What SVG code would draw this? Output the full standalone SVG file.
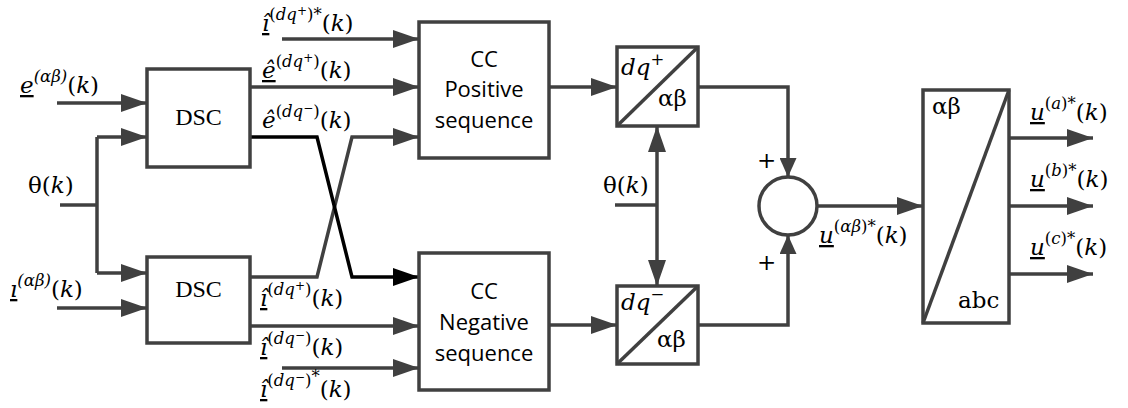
<svg xmlns="http://www.w3.org/2000/svg" width="1128" height="408" viewBox="0 0 1128 408">
<style>
.box{fill:#fff;stroke:#404040;stroke-width:3.5}
.ln{fill:none;stroke:#404040;stroke-width:3.5}
.lk{fill:none;stroke:#000;stroke-width:3.5}
.m{font-family:"DejaVu Serif","Liberation Serif",serif;font-size:23px;fill:#000}
.i{font-style:italic}
.u{text-decoration:underline}
.s{font-size:16.5px}
.ss{font-size:12px}
.dsc{font-family:"Liberation Serif",serif;font-size:24px;fill:#000;text-anchor:middle}
.cc{font-family:"Open Sans","Liberation Sans",sans-serif;font-size:22px;fill:#000;text-anchor:middle}
</style>
<defs>
<marker id="ag" markerUnits="userSpaceOnUse" markerWidth="26" markerHeight="18" refX="26" refY="9" orient="auto"><path d="M0,0 L26,9 L0,18 z" fill="#404040"/></marker>
<marker id="ak" markerUnits="userSpaceOnUse" markerWidth="26" markerHeight="18" refX="26" refY="9" orient="auto"><path d="M0,0 L26,9 L0,18 z" fill="#000"/></marker>
<marker id="as" markerUnits="userSpaceOnUse" markerWidth="19" markerHeight="17" refX="19" refY="8.5" orient="auto"><path d="M0,0 L19,8.5 L0,17 z" fill="#404040"/></marker>
</defs>

<g id="connectors">
<path class="ln" d="M57,103 H147" marker-end="url(#ag)"/>
<path class="ln" d="M60,205 H97"/>
<path class="ln" d="M97,137 V273"/>
<path class="ln" d="M97,137 H147" marker-end="url(#ag)"/>
<path class="ln" d="M97,273 H147" marker-end="url(#ag)"/>
<path class="ln" d="M57,308 H147" marker-end="url(#ag)"/>
<path class="ln" d="M282,39 H419" marker-end="url(#ag)"/>
<path class="ln" d="M250,87 H419" marker-end="url(#ag)"/>
<path class="ln" d="M250,277 H317 L352,137 H419" marker-end="url(#ag)"/>
<path class="lk" d="M250,137 H317 L352,277 H419" marker-end="url(#ak)"/>
<path class="ln" d="M250,326 H419" marker-end="url(#ag)"/>
<path class="ln" d="M282,368 H419" marker-end="url(#ag)"/>
<path class="ln" d="M549,87 H617" marker-end="url(#ag)"/>
<path class="ln" d="M549,325 H617" marker-end="url(#ag)"/>
<path class="ln" d="M615,205 H657"/>
<path class="ln" d="M657,205 V126" marker-end="url(#ag)"/>
<path class="ln" d="M657,205 V286" marker-end="url(#ag)"/>
<path class="ln" d="M698,87 H788 V177" marker-end="url(#as)"/>
<path class="ln" d="M698,325 H788 V235" marker-end="url(#as)"/>
<path class="ln" d="M817,206 H923" marker-end="url(#ag)"/>
<path class="ln" d="M1009,138 H1093" marker-end="url(#ag)"/>
<path class="ln" d="M1009,206 H1093" marker-end="url(#ag)"/>
<path class="ln" d="M1009,274 H1093" marker-end="url(#ag)"/>
</g>

<g id="dsc1">
<rect class="box" x="147" y="69" width="103" height="98"/>
<text class="dsc" x="198.5" y="125">DSC</text>
</g>
<g id="dsc2">
<rect class="box" x="147" y="257" width="103" height="86"/>
<text class="dsc" x="198.5" y="297">DSC</text>
</g>
<g id="ccpos">
<rect class="box" x="419" y="22" width="130" height="136"/>
<text class="cc" x="484" y="67">CC</text>
<text class="cc" x="484" y="97">Positive</text>
<text class="cc" x="484" y="128">sequence</text>
</g>
<g id="ccneg">
<rect class="box" x="419" y="253" width="130" height="137"/>
<text class="cc" x="484" y="299">CC</text>
<text class="cc" x="484" y="330">Negative</text>
<text class="cc" x="484" y="361">sequence</text>
</g>
<g id="dqpos">
<rect class="box" x="617" y="47" width="81" height="79"/>
<line class="ln" x1="617" y1="126" x2="698" y2="47"/>
<text class="m" x="621" y="75"><tspan class="i">dq</tspan><tspan class="s" dy="-10">+</tspan></text>
<text class="m" x="658" y="106">αβ</text>
</g>
<g id="dqneg">
<rect class="box" x="617" y="286" width="81" height="78"/>
<line class="ln" x1="617" y1="364" x2="698" y2="286"/>
<text class="m" x="621" y="310"><tspan class="i">dq</tspan><tspan class="s" dy="-10">−</tspan></text>
<text class="m" x="657" y="347">αβ</text>
</g>
<g id="sum">
<circle class="box" cx="788" cy="206" r="29"/>
<text class="m" x="757" y="168">+</text>
<text class="m" x="757" y="270">+</text>
</g>
<g id="abc">
<rect class="box" x="923" y="90" width="86" height="233"/>
<line class="ln" x1="923" y1="323" x2="1009" y2="90"/>
<text class="m" x="932" y="114">αβ</text>
<text class="m" x="958" y="308">abc</text>
</g>

<g id="labels">
<text class="m" x="20" y="93"><tspan class="i u">e</tspan><tspan class="s i" dy="-11">(αβ)</tspan><tspan dy="11">(</tspan><tspan class="i">k</tspan><tspan>)</tspan></text>
<text class="m" x="28" y="193">θ(<tspan class="i">k</tspan>)</text>
<text class="m" x="10" y="297"><tspan class="i u">ı</tspan><tspan class="s i" dy="-11">(αβ)</tspan><tspan dy="11">(</tspan><tspan class="i">k</tspan><tspan>)</tspan></text>
<text class="m" x="603" y="193">θ(<tspan class="i">k</tspan>)</text>

<text class="m" x="262" y="31"><tspan class="i u">î</tspan><tspan class="s" dy="-11">(</tspan><tspan class="s i">dq</tspan><tspan class="ss" dy="-5">+</tspan><tspan class="s" dy="5">)*</tspan><tspan dy="11">(</tspan><tspan class="i">k</tspan><tspan>)</tspan></text>
<text class="m" x="262" y="78"><tspan class="i u">ê</tspan><tspan class="s" dy="-11">(</tspan><tspan class="s i">dq</tspan><tspan class="ss" dy="-5">+</tspan><tspan class="s" dy="5">)</tspan><tspan dy="11">(</tspan><tspan class="i">k</tspan><tspan>)</tspan></text>
<text class="m" x="262" y="128"><tspan class="i">ê</tspan><tspan class="s" dy="-11">(</tspan><tspan class="s i">dq</tspan><tspan class="ss" dy="-5">−</tspan><tspan class="s" dy="5">)</tspan><tspan dy="11">(</tspan><tspan class="i">k</tspan><tspan>)</tspan></text>
<text class="m" x="260" y="306"><tspan class="i u">î</tspan><tspan class="s" dy="-11">(</tspan><tspan class="s i">dq</tspan><tspan class="ss" dy="-5">+</tspan><tspan class="s" dy="5">)</tspan><tspan dy="11">(</tspan><tspan class="i">k</tspan><tspan>)</tspan></text>
<text class="m" x="260" y="355"><tspan class="i u">î</tspan><tspan class="s" dy="-11">(</tspan><tspan class="s i">dq</tspan><tspan class="ss" dy="-5">−</tspan><tspan class="s" dy="5">)</tspan><tspan dy="11">(</tspan><tspan class="i">k</tspan><tspan>)</tspan></text>
<text class="m" x="260" y="397"><tspan class="i u">î</tspan><tspan class="s" dy="-11">(</tspan><tspan class="s i">dq</tspan><tspan class="ss" dy="-5">−</tspan><tspan class="s" dy="5">)</tspan><tspan class="s" dy="-4">*</tspan><tspan dy="15">(</tspan><tspan class="i">k</tspan><tspan>)</tspan></text>

<text class="m" x="819" y="243"><tspan class="i u">u</tspan><tspan class="s" dy="-11">(</tspan><tspan class="s i">αβ</tspan><tspan class="s">)*</tspan><tspan dy="11">(</tspan><tspan class="i">k</tspan><tspan>)</tspan></text>
<text class="m" x="1030" y="120"><tspan class="i u">u</tspan><tspan class="s" dy="-11">(</tspan><tspan class="s i">a</tspan><tspan class="s">)*</tspan><tspan dy="11">(</tspan><tspan class="i">k</tspan><tspan>)</tspan></text>
<text class="m" x="1030" y="187"><tspan class="i u">u</tspan><tspan class="s" dy="-11">(</tspan><tspan class="s i">b</tspan><tspan class="s">)*</tspan><tspan dy="11">(</tspan><tspan class="i">k</tspan><tspan>)</tspan></text>
<text class="m" x="1030" y="255"><tspan class="i u">u</tspan><tspan class="s" dy="-11">(</tspan><tspan class="s i">c</tspan><tspan class="s">)*</tspan><tspan dy="11">(</tspan><tspan class="i">k</tspan><tspan>)</tspan></text>
</g>
</svg>
